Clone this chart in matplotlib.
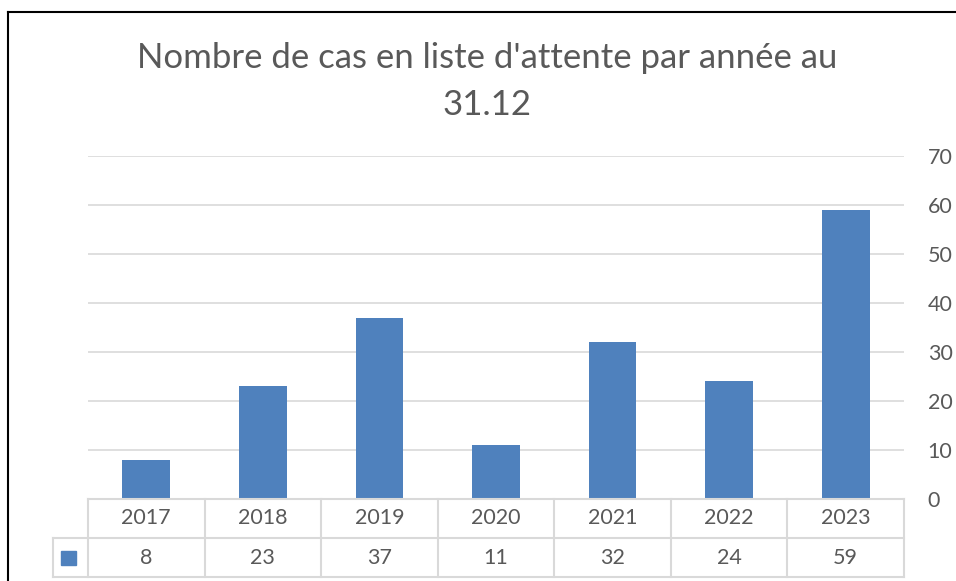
import numpy as np
import matplotlib.pyplot as plt
from matplotlib.patches import Rectangle

# Données
annees = ["2017", "2018", "2019", "2020", "2021", "2022", "2023"]
cas = [8, 23, 37, 11, 32, 24, 59]

bleu = "#4F81BD"
gris_texte = "#595959"
gris_ligne = "#D9D9D9"

plt.rcParams['font.family'] = ['Lato', 'DejaVu Sans']

W, H = 956, 581
fig = plt.figure(figsize=(W / 100, H / 100), dpi=100)

# Cadre (gauche et haut)
fig.add_artist(plt.Line2D([8 / W, 8 / W], [0, 1 - 12 / H], color="black", lw=1.5))
fig.add_artist(plt.Line2D([8 / W, 1], [1 - 12 / H, 1 - 12 / H], color="black", lw=1.5))

# Zone du graphique
x0, x1 = 88, 904
y_top, y_bot = 156, 499
ax = fig.add_axes([x0 / W, 1 - y_bot / H, (x1 - x0) / W, (y_bot - y_top) / H])
x = np.arange(len(annees))
ax.bar(x, cas, width=0.41, color=bleu, zorder=3)
ax.set_xlim(-0.5, len(annees) - 0.5)
ax.set_ylim(0, 70)
ax.set_yticks(np.arange(0, 71, 10))
ax.yaxis.tick_right()
ax.tick_params(axis='y', length=0, pad=17, labelsize=15.5, labelcolor=gris_texte)
ax.set_xticks([])
ax.grid(axis='y', color=gris_ligne, lw=1.2, zorder=0)
for s in ax.spines.values():
    s.set_visible(False)

# Titre
fig.text(487 / W, 1 - 68 / H, "Nombre de cas en liste d'attente par année au",
         ha="center", va="baseline", fontsize=25, color=gris_texte)
fig.text(487 / W, 1 - 115 / H, "31.12",
         ha="center", va="baseline", fontsize=25, color=gris_texte)

# Table de données sous le graphique
t_top, t_mid, t_bot = 499, 538, 577
leg_x = 53
axt = fig.add_axes([x0 / W, 1 - t_bot / H, (x1 - x0) / W, (t_bot - t_top) / H])
axt.set_xlim(-0.5, len(annees) - 0.5)
axt.set_ylim(0, 2)
axt.axis("off")
cat_w = (x1 - x0) / len(annees)
xl = -0.5 - (x0 - leg_x) / cat_w
kw = dict(color=gris_ligne, lw=1.5, clip_on=False)
axt.plot([-0.5, len(annees) - 0.5], [2, 2], **kw)
axt.plot([xl, len(annees) - 0.5], [1, 1], **kw)
axt.plot([xl, len(annees) - 0.5], [0, 0], **kw)
axt.plot([xl, xl], [0, 1], **kw)
for b in np.arange(len(annees) + 1) - 0.5:
    axt.plot([b, b], [0, 2], **kw)
for i, (a, v) in enumerate(zip(annees, cas)):
    axt.text(i, 1.5, a, ha="center", va="center", fontsize=15.5, color=gris_texte)
    axt.text(i, 0.5, str(v), ha="center", va="center", fontsize=15.5, color=gris_texte)
axt.add_patch(Rectangle((xl + 8 / cat_w, 0.5 - 7 / 39), 15 / cat_w, 14 / 39,
                        color=bleu, clip_on=False))

fig.savefig("out.png", dpi=100)
